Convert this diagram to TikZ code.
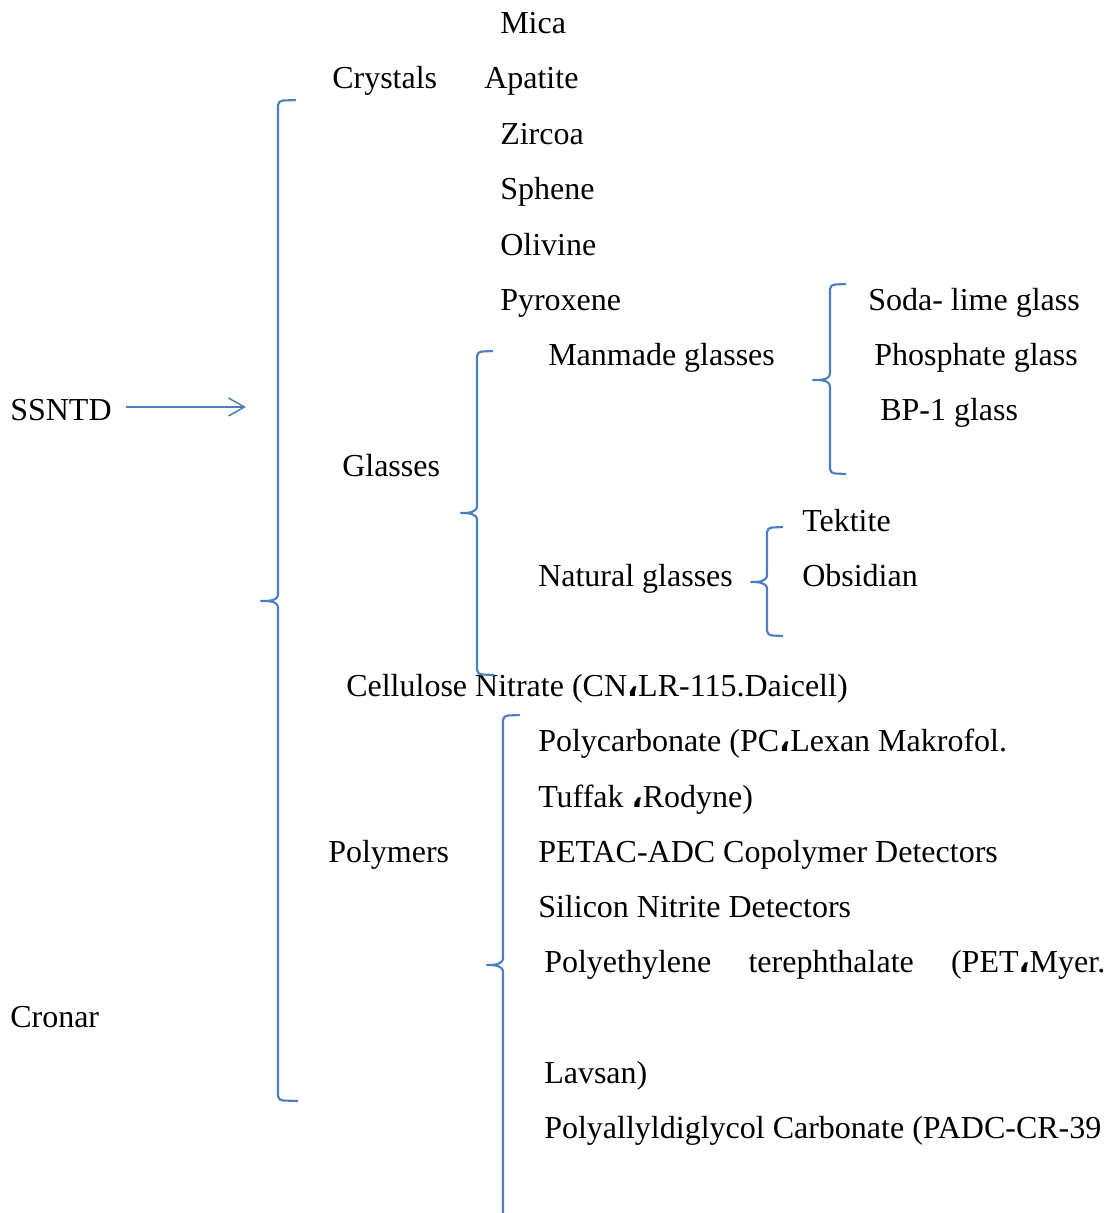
\documentclass[tikz,border=0pt]{standalone}
\usepackage{fontspec}
\setmainfont{Liberation Serif}
\newfontfamily\dvs{DejaVu Sans}
\usetikzlibrary{arrows.meta}
\newcommand{\acomma}{{\dvs\bfseries\fontsize{22}{26}\selectfont ،}}
\definecolor{bracecol}{RGB}{74,126,190}
\begin{document}
\begin{tikzpicture}[x=0.75pt,y=-0.75pt,
  lbl/.style={anchor=base west,inner sep=0pt,font=\fontsize{24}{28}\selectfont},
  bracepath/.style={draw=bracecol,line width=1.6pt,line join=round}]
\useasboundingbox (0,0) rectangle (1115,1213);
% labels
\node[lbl] (mica) at (500,34) {Mica};
\node[lbl] (crystals) at (332,89) {Crystals};
\node[lbl] (apatite) at (484,89) {Apatite};
\node[lbl] (zircoa) at (500,144) {Zircoa};
\node[lbl] (sphene) at (500,199) {Sphene};
\node[lbl] (olivine) at (500,255) {Olivine};
\node[lbl] (pyroxene) at (500,310) {Pyroxene};
\node[lbl] (soda) at (868,310) {Soda- lime glass};
\node[lbl] (manmade) at (548,365) {Manmade glasses};
\node[lbl] (phosphate) at (874,365) {Phosphate glass};
\node[lbl] (ssntd) at (10,420) {SSNTD};
\node[lbl] (bp) at (880,420) {BP-1 glass};
\node[lbl] (glasses) at (342,476) {Glasses};
\node[lbl] (tektite) at (802,531) {Tektite};
\node[lbl] (natural) at (538,586) {Natural glasses};
\node[lbl] (obsidian) at (802,586) {Obsidian};
\node[lbl] (cellulose) at (346,696) {Cellulose Nitrate (CN\acomma LR-115.Daicell)};
\node[lbl] (polycarb) at (538,751) {Polycarbonate (PC\acomma Lexan Makrofol.};
\node[lbl] (tuffak) at (538,807) {Tuffak \acomma Rodyne)};
\node[lbl] (polymers) at (328,862) {Polymers};
\node[lbl] (petac) at (538,862) {PETAC-ADC Copolymer Detectors};
\node[lbl] (silicon) at (538,917) {Silicon Nitrite Detectors};
\node[lbl] (pet) at (544,972) {\hbox to 420.75pt{Polyethylene\hfill terephthalate\hfill (PET\acomma Myer.}};
\node[lbl] (cronar) at (10,1027) {Cronar};
\node[lbl] (lavsan) at (544,1083) {Lavsan)};
\node[lbl] (padc) at (544,1138) {Polyallyldiglycol Carbonate (PADC-CR-39};
% arrow
\coordinate (arrowend) at (246,407);
\draw[draw=bracecol,line width=1.1pt,-{Straight Barb[length=12pt,width=13.5pt,line width=1.1pt]}] (ssntd.east |- arrowend) ++(14,0) -- (arrowend);
% brace 1 (main)
\draw[bracepath] (296,100) -- (283,100.5) to[out=180,in=90] (278,105) -- (278,594)
  to[out=-90,in=0] (261,601) to[out=0,in=90] (278,608) -- (278,1096)
  to[out=-90,in=180] (283,1100.5) -- (298,1101);
% brace 2 (glasses)
\draw[bracepath] (493,351) -- (482,351.5) to[out=180,in=90] (477,356) -- (477,506)
  to[out=-90,in=0] (461,513) to[out=0,in=90] (477,520) -- (477,670)
  to[out=-90,in=180] (482,674.5) -- (494,675);
% brace 3 (manmade)
\draw[bracepath] (846,284) -- (835,284.5) to[out=180,in=90] (830,289) -- (830,373)
  to[out=-90,in=0] (813,380) to[out=0,in=90] (830,387) -- (830,469)
  to[out=-90,in=180] (835,473.5) -- (846,474);
% brace 4 (natural)
\draw[bracepath] (783,527) -- (772,527.5) to[out=180,in=90] (767,532) -- (767,575)
  to[out=-90,in=0] (751,582) to[out=0,in=90] (767,589) -- (767,631)
  to[out=-90,in=180] (772,635.5) -- (783,636);
% brace 5 (polymers)
\draw[bracepath] (520,715) -- (508,715.5) to[out=180,in=90] (503,720) -- (503,958)
  to[out=-90,in=0] (487,965) to[out=0,in=90] (503,972) -- (503,1220);
\end{tikzpicture}
\end{document}
